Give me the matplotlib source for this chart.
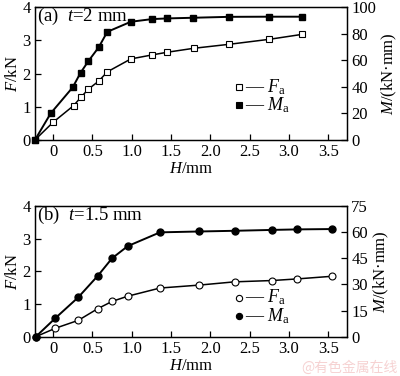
import numpy as np
import matplotlib
matplotlib.use('Agg')
import matplotlib.pyplot as plt

plt.rcParams['font.family'] = ['Liberation Serif', 'DejaVu Serif']
plt.rcParams['mathtext.fontset'] = 'custom'
plt.rcParams['mathtext.rm'] = 'Liberation Serif'
plt.rcParams['mathtext.it'] = 'Liberation Serif:italic'
plt.rcParams['font.size'] = 12

# (a) t = 2 mm
h_a = [-0.23, 0.0, 0.26, 0.36, 0.45, 0.58, 0.69, 0.99, 1.26, 1.45, 1.79, 2.24, 2.75, 3.17]
f_a = [0.0, 0.53, 1.03, 1.30, 1.53, 1.77, 2.05, 2.44, 2.56, 2.64, 2.76, 2.88, 3.03, 3.18]
h_a_m = [-0.23, -0.03, 0.25, 0.35, 0.45, 0.58, 0.69, 0.99, 1.26, 1.45, 1.78, 2.24, 2.75, 3.17]
m_a = [0.0, 20.0, 39.6, 50.6, 59.4, 69.7, 81.4, 89.0, 91.0, 91.5, 92.0, 92.7, 92.8, 92.8]

# (b) t = 1.5 mm
h_b = [-0.22, 0.03, 0.32, 0.57, 0.75, 0.95, 1.36, 1.86, 2.31, 2.79, 3.11, 3.55]
f_b = [0.0, 0.26, 0.50, 0.86, 1.08, 1.24, 1.49, 1.58, 1.68, 1.72, 1.77, 1.85]
m_b = [0.0, 10.7, 22.6, 35.0, 45.0, 52.0, 59.9, 60.4, 60.8, 61.3, 61.6, 61.8]

x_ticks = [0, 0.5, 1.0, 1.5, 2.0, 2.5, 3.0, 3.5]
x_labels = ['0', '0.5', '1.0', '1.5', '2.0', '2.5', '3.0', '3.5']

fig = plt.figure(figsize=(4.0, 3.76), dpi=100)
ax1 = fig.add_axes([0.0875, 0.628, 0.78, 0.353])
ax2 = fig.add_axes([0.0875, 0.1045, 0.78, 0.3475])


def setup(ax, ax_r, mmax, mticks, title, leg_y, mk):
    ax.set_xlim(-0.23, 3.74)
    ax.set_ylim(0, 4)
    ax_r.set_ylim(0, mmax)
    ax.set_xticks(x_ticks)
    ax.set_xticklabels(x_labels)
    ax.set_yticks([0, 1, 2, 3, 4])
    ax_r.set_yticks(mticks)
    for a in (ax, ax_r):
        a.tick_params(direction='in', length=4, width=0.9, pad=3)
        for s in a.spines.values():
            s.set_linewidth(0.9)
    ax.set_ylabel('$F$/kN', labelpad=1)
    ax_r.set_ylabel('$M$/(kN·mm)', labelpad=3)
    ax.set_xlabel('$H$/mm', labelpad=1)
    ax.text(0.005, 0.93, title, transform=ax.transAxes, fontsize=13.5,
            va='center', ha='left')
    # legend: marker followed by a dash and the label
    for dy, fc, lab in [(0, 'white', '$F_\\mathrm{a}$'), (-0.14, 'black', '$M_\\mathrm{a}$')]:
        ax.plot([0.655], [leg_y + dy], marker=mk, ms=4.5, mfc=fc, mec='black',
                mew=0.8, transform=ax.transAxes, clip_on=False)
        ax.text(0.672, leg_y + dy, '— ' + lab, transform=ax.transAxes,
                fontsize=13, va='center', ha='left')


# top panel
ax1r = ax1.twinx()
setup(ax1, ax1r, 100, [0, 20, 40, 60, 80, 100], '(a)  $t$=2 mm', 0.40, 's')
ax1.plot(h_a, f_a, color='black', lw=1.1, marker='s', ms=5, mfc='white',
         mec='black', mew=0.8, clip_on=False, zorder=3)
ax1r.plot(h_a_m, m_a, color='black', lw=1.4, marker='s', ms=5, mfc='black',
          mec='black', clip_on=False, zorder=3)

# bottom panel
ax2r = ax2.twinx()
setup(ax2, ax2r, 75, [0, 15, 30, 45, 60, 75], '(b)  $t$=1.5 mm', 0.30, 'o')
ax2.plot(h_b, f_b, color='black', lw=1.1, marker='o', ms=5, mfc='white',
         mec='black', mew=0.8, clip_on=False, zorder=3)
ax2r.plot(h_b, m_b, color='black', lw=1.4, marker='o', ms=5, mfc='black',
          mec='black', clip_on=False, zorder=3)

fig.text(0.995, 0.003, '@有色金属在线', color='#f6d2d2', fontsize=10,
         ha='right', va='bottom', family=['Noto Sans CJK SC', 'DejaVu Sans'])

fig.savefig('out.png', dpi=100)
